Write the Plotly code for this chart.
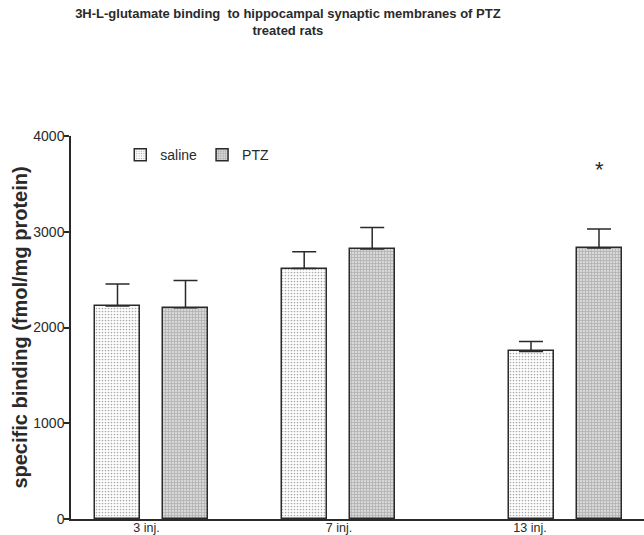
import plotly.graph_objects as go

# ---- data ----
groups = ["3 inj.", "7 inj.", "13 inj."]
saline_mean = [2225, 2615, 1750]
saline_sem = [230, 175, 105]
ptz_mean = [2205, 2820, 2830]
ptz_sem = [285, 225, 200]
signif = ["", "", "*"]          # significance marks over PTZ bars
y_ticks = [0, 1000, 2000, 3000, 4000]

# ---- layout constants (positions on numeric x axis) ----
group_pos = [0.805, 2.672, 4.94]
label_pos = [0.755, 2.68, 4.59]
half_gap = 0.34
bar_w = 0.45

FONT = "Liberation Sans, Arial, sans-serif"
INK = "#2a2a2a"

fig = go.Figure()
fig.add_trace(go.Bar(
    name="saline",
    x=[g - half_gap for g in group_pos], y=saline_mean, width=bar_w,
    marker=dict(color="white",
                pattern=dict(shape=".", size=3, solidity=0.25, fgcolor="#555555", bgcolor="white"),
                line=dict(color=INK, width=1.5)),
    error_y=dict(type="data", array=saline_sem, arrayminus=[0] * 3, symmetric=False,
                 width=12, thickness=1.5, color=INK),
))
fig.add_trace(go.Bar(
    name="PTZ",
    x=[g + half_gap for g in group_pos], y=ptz_mean, width=bar_w,
    marker=dict(color="white",
                pattern=dict(shape="+", size=3, solidity=0.45, fgcolor="#888888", bgcolor="#d8d8d8"),
                line=dict(color=INK, width=1.5)),
    error_y=dict(type="data", array=ptz_sem, arrayminus=[0] * 3, symmetric=False,
                 width=12, thickness=1.5, color=INK),
))

for g, m, s, mark in zip(group_pos, ptz_mean, ptz_sem, signif):
    if mark:
        fig.add_annotation(x=g + half_gap, y=m + s + 620, text=mark, showarrow=False,
                           font=dict(family=FONT, size=22, color=INK), yanchor="middle")

fig.update_layout(
    width=644, height=535,
    margin=dict(l=71, r=0, t=136, b=16, autoexpand=False),
    paper_bgcolor="white", plot_bgcolor="white",
    font=dict(family=FONT, color=INK),
    title=dict(
        text="<b>3H-L-glutamate binding \u00a0to hippocampal synaptic membranes of PTZ<br>treated rats</b>",
        x=0.447, xref="container", xanchor="center",
        y=0.967, yref="container", yanchor="top",
        font=dict(family=FONT, size=13, color=INK),
    ),
    showlegend=True,
    legend=dict(orientation="h", x=0.086, xanchor="left", y=0.95, yanchor="middle",
                font=dict(family=FONT, size=14, color=INK), bgcolor="rgba(0,0,0,0)",
                itemwidth=30),
    bargap=0,
)
fig.update_xaxes(range=[0, 5.73], tickvals=label_pos, ticktext=groups, ticks="",
                 showline=True, linecolor=INK, linewidth=1.5, showgrid=False, zeroline=False,
                 automargin=False, ticklabelstandoff=-4,
                 tickfont=dict(family=FONT, size=12.5, color=INK))
fig.update_yaxes(range=[0, 4000], tickvals=y_ticks, ticks="outside", ticklen=5, tickwidth=1.5,
                 tickcolor=INK, showline=True, linecolor=INK, linewidth=1.5, showgrid=False,
                 zeroline=False, automargin=False, ticklabelstandoff=-3,
                 tickfont=dict(family=FONT, size=14, color=INK),
                 title=dict(text="<b>specific binding (fmol/mg protein)</b>", standoff=0,
                            font=dict(family=FONT, size=20, color=INK)))

fig.write_html("out.html", config={"displayModeBar": False},
               post_script="document.body.style.margin='0';document.body.style.overflow='hidden';")
